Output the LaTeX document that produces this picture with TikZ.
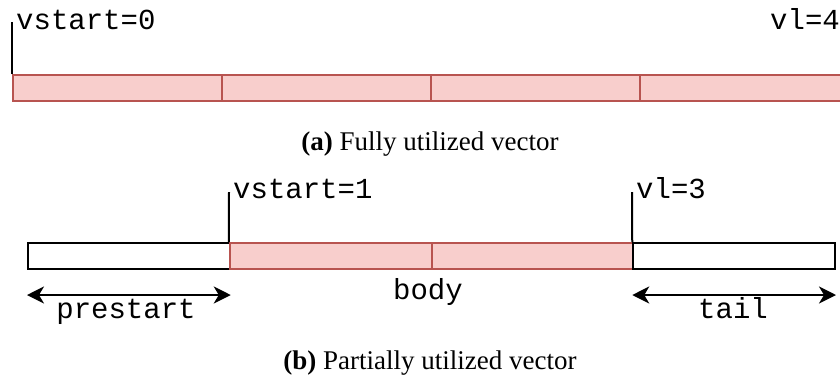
\documentclass[tikz,border=0pt]{standalone}
\usepackage{fontspec}
\setmainfont{Liberation Serif}
\setmonofont{Liberation Mono}
\usetikzlibrary{arrows.meta}
\definecolor{lanefill}{HTML}{F8CECC}
\definecolor{laneedge}{HTML}{B85450}
\tikzset{
  lane/.style={draw=laneedge, fill=lanefill, line width=2pt, minimum height=26pt, inner sep=0pt, anchor=north west},
  idle/.style={draw=black, fill=white, line width=2pt, minimum height=26pt, inner sep=0pt, anchor=north west},
  tag/.style={font=\fontsize{29}{34}\selectfont\ttfamily, inner sep=0pt, anchor=base west},
  marker/.style={line width=2pt},
  span/.style={{Stealth[length=17pt,width=17pt,inset=5pt]}-{Stealth[length=17pt,width=17pt,inset=5pt]}, line width=2pt},
  capt/.style={font=\fontsize{27}{32}\selectfont, inner sep=0pt, anchor=base}
}
\begin{document}
\begin{tikzpicture}[x=1pt,y=-1pt]
  \useasboundingbox (0,0) rectangle (840,389);

  % (a) all lanes active
  \foreach \i in {0,1,2,3}
     \node[lane, minimum width=209pt] (top\i) at ({12+209*\i},74) {};
  \coordinate (vs0top) at (12,22);
  \draw[marker] (top0.north west) -- (vs0top);
  \node[tag] (vs0) at (16,29) {vstart=0};
  \node[tag] (vl4) at (770,29) {vl=4};
  \node[capt] (capa) at (430,150) {\textbf{(a)} Fully utilized vector};

  % (b) prestart, body and tail
  \foreach \i/\s in {0/idle, 1/lane, 2/lane, 3/idle}
     \node[\s, minimum width=201.75pt] (bot\i) at ({27+201.75*\i},242) {};
  \coordinate (vs1top) at (229,192);
  \coordinate (vl3top) at (632,192);
  \draw[marker] (bot1.north west) -- (vs1top);
  \draw[marker] (bot3.north west) -- (vl3top);
  \node[tag] (vs1) at (233,198) {vstart=1};
  \node[tag] (vl3) at (636,198) {vl=3};

  \draw[span] ([yshift=-25pt]bot0.south west) -- ([yshift=-25pt]bot0.south east);
  \draw[span] ([yshift=-25pt]bot3.south west) -- ([yshift=-25pt]bot3.south east);
  \node[tag, anchor=base] (pre) at (126,318) {prestart};
  \node[tag, anchor=base] (body) at (428,299) {body};
  \node[tag, anchor=base] (tail) at (733,318) {tail};
  \node[capt] (capb) at (430,369) {\textbf{(b)} Partially utilized vector};
\end{tikzpicture}
\end{document}
